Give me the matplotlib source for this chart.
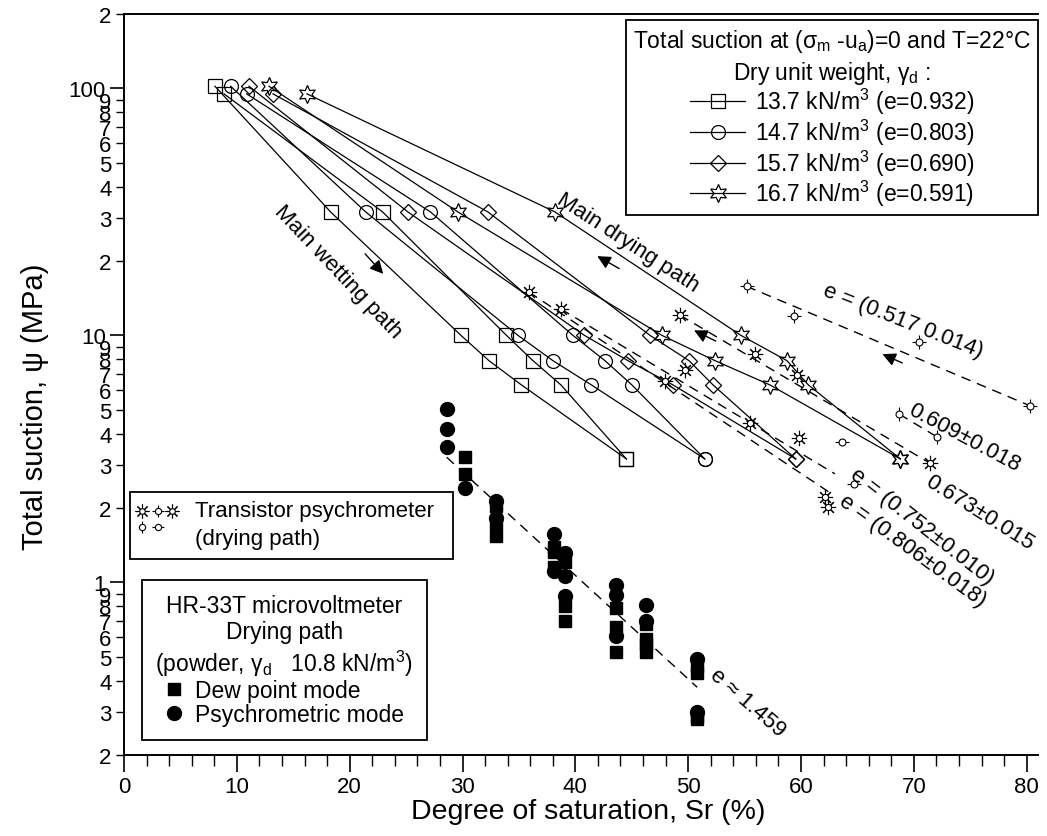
import numpy as np
import matplotlib.pyplot as plt
from matplotlib.patches import Rectangle
from matplotlib.ticker import FixedLocator, MultipleLocator, FuncFormatter

plt.rcParams['font.family'] = ['Liberation Sans', 'DejaVu Sans']
plt.rcParams['mathtext.fontset'] = 'custom'
plt.rcParams['mathtext.rm'] = 'Liberation Sans'
plt.rcParams['mathtext.it'] = 'Liberation Sans:italic'
plt.rcParams['mathtext.default'] = 'regular'

# ---- compacted samples, drying + wetting loops
psi_dry = [3.16, 6.3, 7.9, 10, 31.6, 95]      # MPa, drying order
psi_wet = [102, 31.6, 10, 7.9, 6.3, 3.16]     # MPa, wetting order

sq_dry = [44.52, 38.72, 36.24, 33.89, 22.92, 8.86]
sq_wet = [8.06, 18.31, 29.86, 32.34, 35.22, 44.52]
ci_dry = [51.47, 45.01, 42.62, 39.78, 27.16, 10.87]
ci_wet = [9.45, 21.42, 34.91, 38.01, 41.42, 51.47]
di_dry = [59.53, 52.20, 50.07, 46.61, 32.25, 13.20]
di_wet = [11.08, 25.16, 40.80, 44.66, 48.65, 59.53]
st_dry = [68.80, 60.65, 58.75, 54.67, 38.19, 16.21]
st_wet = [12.85, 29.59, 47.67, 52.37, 57.24, 68.80]

labels_gd = ['13.7 kN/m$^3$ (e=0.932)', '14.7 kN/m$^3$ (e=0.803)',
             '15.7 kN/m$^3$ (e=0.690)', '16.7 kN/m$^3$ (e=0.591)']

# ---- transistor psychrometer (drying path)
t517_sr = [55.17, 59.37, 70.47, 80.28]
t517_psi = [15.8, 12.0, 9.37, 5.19]
t609_sr = [68.70, 72.01]
t609_psi = [4.80, 3.89]
t673_sr = [49.26, 55.91, 59.63, 71.41]
t673_psi = [12.08, 8.40, 6.91, 3.04]
t806_sr = [35.89, 38.72, 47.94, 62.14, 62.40]
t806_psi = [14.97, 12.78, 6.55, 2.21, 2.02]
tsun_sr = [49.71, 55.47, 59.81]
tsun_psi = [7.26, 4.42, 3.84]
tcir_sr = [63.59, 64.68]
tcir_psi = [3.69, 2.50]

# fitted trends (end points)
fit517_sr, fit517_psi = [55.17, 80.28], [15.8, 5.19]
fit609_sr, fit609_psi = [68.70, 72.01], [4.80, 3.89]
fit673_sr, fit673_psi = [49.26, 71.41], [12.08, 3.04]
fit752_sr, fit752_psi = [38.72, 63.0], [12.78, 2.75]
fit806_sr, fit806_psi = [35.89, 62.6], [14.97, 2.30]

# ---- HR-33T microvoltmeter, powder
dew_sr = [30.2, 30.2, 33.0, 33.0, 33.0, 38.1, 38.1, 38.1, 39.1, 39.1, 39.1,
          43.6, 43.6, 43.6, 46.3, 46.3, 46.3, 46.3, 50.8, 50.8, 50.8, 50.8]
dew_psi = [3.21, 2.74, 2.04, 1.72, 1.54, 1.39, 1.33, 1.15, 1.205, 0.804, 0.699,
           0.785, 0.657, 0.521, 0.678, 0.589, 0.563, 0.521, 0.460, 0.429, 0.288, 0.280]
psy_sr = [28.6, 28.6, 28.6, 30.2, 33.0, 33.0, 38.1, 38.1, 39.1, 39.1, 39.1,
          43.6, 43.6, 43.6, 46.3, 46.3, 50.8, 50.8]
psy_psi = [5.03, 4.17, 3.52, 2.42, 2.14, 1.83, 1.57, 1.11, 1.31, 1.06, 0.883,
           0.978, 0.888, 0.608, 0.809, 0.699, 0.489, 0.299]
fit_hr_sr, fit_hr_psi = [28.6, 50.8], [3.21, 0.376]

fig = plt.figure(figsize=(10.47, 8.37), dpi=100)
ax = fig.add_axes([124 / 1047, 1 - 756 / 837, 914 / 1047, 741 / 837])

lw = 0.9
mk = dict(color='k', lw=lw, mfc='none', mec='k', mew=0.9)
series = [(sq_dry, sq_wet, 's', 9.5), (ci_dry, ci_wet, 'o', 10),
          (di_dry, di_wet, 'D', 8), (st_dry, st_wet, (6, 1, 0), 13)]
handles = []
for (xd, xw, m, ms), lab in zip(series, labels_gd):
    h, = ax.plot(xd, psi_dry, marker=m, ms=ms, label=lab, **mk)
    ax.plot(xw, psi_wet, marker=m, ms=ms, **mk)
    handles.append(h)


def sun(x, y):
    ax.plot(x, y, ls='none', marker=(8, 2, 0), ms=11, mec='k', mew=0.8)
    ax.plot(x, y, ls='none', marker='o', ms=4.5, mfc='white', mec='k', mew=0.8)


def tick_circle(x, y, tick):
    ax.plot(x, y, ls='none', marker=tick, ms=10, mec='k', mew=0.8)
    ax.plot(x, y, ls='none', marker='o', ms=5, mfc='white', mec='k', mew=0.8)


dash = dict(color='k', lw=1.0, ls=(0, (7, 5)))
for fx, fy in [(fit517_sr, fit517_psi), (fit609_sr, fit609_psi),
               (fit673_sr, fit673_psi), (fit752_sr, fit752_psi),
               (fit806_sr, fit806_psi), (fit_hr_sr, fit_hr_psi)]:
    ax.plot(fx, fy, **dash)

tick_circle(t517_sr, t517_psi, '+')
tick_circle(t609_sr, t609_psi, '|')
sun(t673_sr, t673_psi)
sun(t806_sr, t806_psi)
sun(tsun_sr, tsun_psi)
tick_circle(tcir_sr, tcir_psi, '_')

# HR-33T
h_dew, = ax.plot(dew_sr, dew_psi, ls='none', marker='s', ms=9, color='k',
                 label='Dew point mode')
h_psy, = ax.plot(psy_sr, psy_psi, ls='none', marker='o', ms=10, color='k',
                 label='Psychrometric mode')

# path arrows
arw = dict(arrowstyle='-|>', color='k', lw=1.0, mutation_scale=20)
for head, tail in [((23.14, 17.4), (21.2, 21.8)), ((41.73, 21.2), (44.1, 18.4)),
                   ((50.3, 10.6), (52.66, 9.37)), ((66.99, 8.48), (69.2, 7.65))]:
    ax.annotate('', xy=head, xytext=tail, arrowprops=arw)

# annotations
tx = dict(ha='center', va='center', rotation_mode='anchor', fontsize=16)
ax.text(18.96, 18.2, 'Main wetting path', rotation=-46.5, **tx)
ax.text(44.66, 23.9, 'Main drying path', rotation=-33, **tx)
ax.text(69.02, 11.46, 'e = (0.517 0.014)', rotation=-21.5, **tx)
ax.text(74.43, 3.86, '0.609\u00b10.018', rotation=-28, **tx)
ax.text(75.85, 1.93, '0.673\u00b10.015', rotation=-32, **tx)
ax.text(70.75, 1.695, 'e = (0.752\u00b10.010)', rotation=-38, **tx)
ax.text(69.86, 1.35, 'e = (0.806\u00b10.018)', rotation=-36, **tx)
ax.text(55.25, 0.327, 'e \u2248 1.459', rotation=-41, **tx)

# axes
ax.set_xlim(0, 81)
ax.set_yscale('log')
ax.set_ylim(0.2, 200)
ax.xaxis.set_major_locator(MultipleLocator(10))
ax.xaxis.set_minor_locator(MultipleLocator(2))
ax.yaxis.set_major_locator(FixedLocator([1, 10, 100]))
ax.yaxis.set_major_formatter(FuncFormatter(lambda v, p: '%g' % v))
minors = [m * 10.0 ** d for d in (-1, 0, 1) for m in range(2, 10)] + [200]
ax.yaxis.set_minor_locator(FixedLocator(minors))
ax.yaxis.set_minor_formatter(FuncFormatter(
    lambda v, p: '%d' % round(v / 10 ** np.floor(np.log10(v) + 1e-9))))
ax.tick_params(which='major', direction='out', length=10, width=1.2, labelsize=16, pad=3)
ax.tick_params(which='minor', direction='out', length=6, width=1.0, labelsize=16, pad=3)
ax.tick_params(axis='x', which='major', length=12)
ax.tick_params(axis='x', which='minor', length=8)
for s in ax.spines.values():
    s.set_linewidth(1.4)
ax.spines['right'].set_visible(False)

ax.set_xlabel('Degree of saturation, Sr (%)', fontsize=20.5)
ax.xaxis.set_label_coords(0.508, -0.058)
ax.set_ylabel('Total suction, \u03c8 (MPa)', fontsize=21)
ax.yaxis.set_label_coords(-0.082, 0.471)

# legends
leg1 = ax.legend(handles=handles, loc='upper right', bbox_to_anchor=(1.0, 0.992),
                 borderaxespad=0, fontsize=16.5, fancybox=False, edgecolor='k',
                 framealpha=1, handlelength=2.4, handletextpad=0.4,
                 labelspacing=0.02,
                 title='Total suction at ($\\sigma_{m}$ -u$_{a}$)=0 and T=22\u00b0C\n'
                       'Dry unit weight, $\\gamma_{d}$ :',
                 title_fontsize=16.5, borderpad=0.3)
leg1.get_title().set_multialignment('center')
leg1.get_title().set_linespacing(1.25)
leg1.get_frame().set_linewidth(1.3)
ax.add_artist(leg1)

leg3 = ax.legend(handles=[h_dew, h_psy], loc='lower left', bbox_to_anchor=(0.0194, 0.0202),
                 borderaxespad=0, fontsize=16.5, fancybox=False, edgecolor='k',
                 framealpha=1, handlelength=0.8, handletextpad=0.5, labelspacing=0.05,
                 title='HR-33T microvoltmeter\nDrying path\n'
                       '(powder, $\\gamma_{d}$   10.8 kN/m$^3$)',
                 title_fontsize=16.5, borderpad=0.6)
leg3.get_title().set_multialignment('center')
leg3.get_frame().set_linewidth(1.3)

# transistor psychrometer key
ax.add_patch(Rectangle((0.0066, 0.2645), 0.3534, 0.0905, transform=ax.transAxes,
                       fill=True, fc='white', ec='k', lw=1.3, zorder=5))
kt = dict(transform=ax.transAxes, zorder=6, clip_on=False)
for x0, y0, kind in [(0.020, 0.3297, 'sun'), (0.0374, 0.3297, '+'), (0.0522, 0.3297, 'sun'),
                     (0.020, 0.3073, '|'), (0.0374, 0.3073, '_')]:
    if kind == 'sun':
        ax.plot(x0, y0, marker=(8, 2, 0), ms=10, mec='k', mew=0.8, **kt)
        ax.plot(x0, y0, marker='o', ms=4, mfc='white', mec='k', mew=0.8, **kt)
    else:
        ax.plot(x0, y0, marker=kind, ms=9, mec='k', mew=0.8, **kt)
        ax.plot(x0, y0, marker='o', ms=4.5, mfc='white', mec='k', mew=0.8, **kt)
ax.text(0.0777, 0.3297, 'Transistor psychrometer', transform=ax.transAxes,
        fontsize=16, va='center', zorder=6)
ax.text(0.0777, 0.2915, '(drying path)', transform=ax.transAxes,
        fontsize=16, va='center', zorder=6)

fig.savefig('out.png', dpi=100)
